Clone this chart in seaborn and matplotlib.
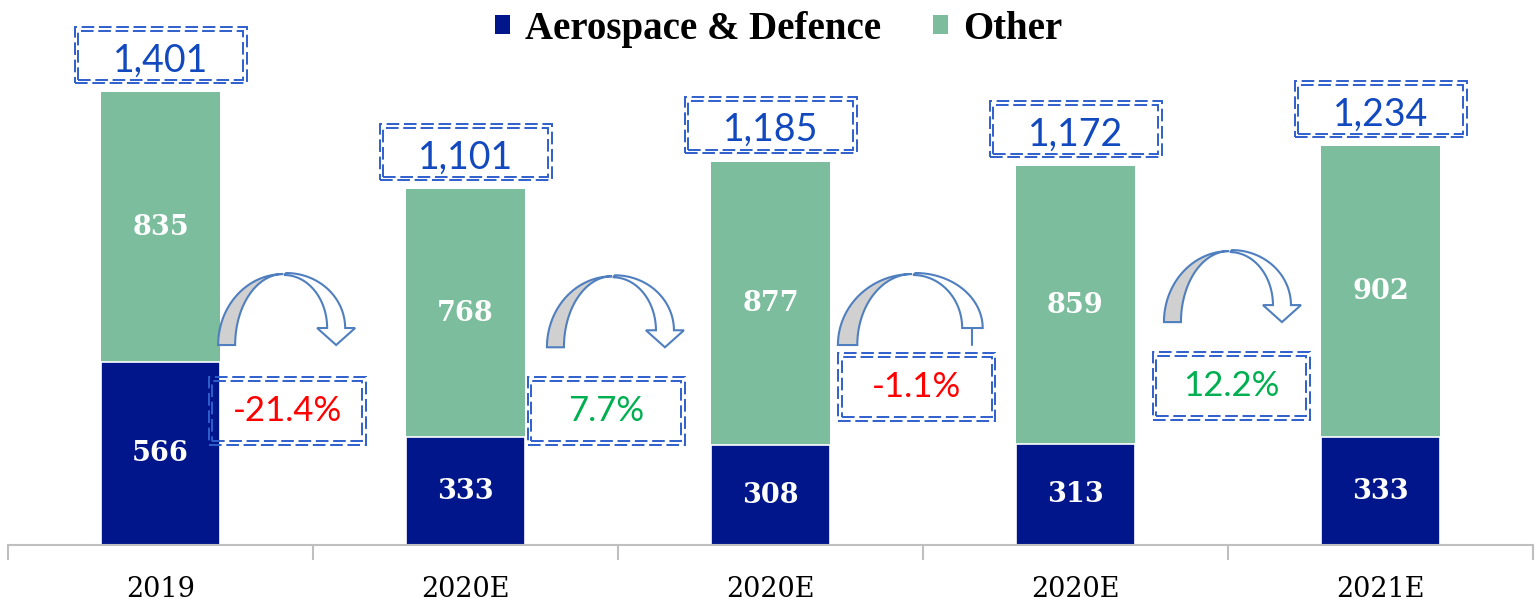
import numpy as np
import pandas as pd
import matplotlib
matplotlib.use("Agg")
import matplotlib.pyplot as plt
import seaborn as sns
from matplotlib.patches import Rectangle, Polygon, Patch
from matplotlib.lines import Line2D
from matplotlib.transforms import Affine2D, IdentityTransform
from matplotlib.font_manager import FontProperties

# ---- data -------------------------------------------------------------
periods = ["2019", "2020E", "2020E", "2020E", "2021E"]
aerospace = [566, 333, 308, 313, 333]
other = [835, 768, 877, 859, 902]
totals = [1401, 1101, 1185, 1172, 1234]
growth = [-21.4, 7.7, -1.1, 12.2]

# ---- styling ----------------------------------------------------------
NAVY = "#00168A"
GREEN = "#7BBD9C"
BOX_BLUE = "#2F5FCC"
TOTAL_BLUE = "#1249BE"
NEG_RED = "#FF0000"
POS_GREEN = "#00B050"
ARROW_EDGE = "#4F7FBF"
ARROW_FILL = "#D0D0D0"
AXIS_GRAY = "#BFBFBF"

# placement of the growth call-outs and curved arrows (data x, data y)
growth_box_pos = [(0.415, 415), (1.461, 415), (2.480, 489), (3.510, 492)]
arrow_pos = [(0.189, 619), (1.267, 612), (2.221, 619), (3.290, 690)]
arrow_head = [True, True, False, True]
arrow_sx = [1.0, 1.0, 1.14, 1.0]

sns.set_theme(style="white")
plt.rcParams["font.family"] = ["DejaVu Serif", "DejaVu Sans"]

fig = plt.figure(figsize=(15.36, 6.06), dpi=100)
ax = fig.add_axes([8 / 1536, 61 / 606, 1525 / 1536, 545 / 606])

df = pd.DataFrame({"idx": range(len(periods)), "aero": aerospace, "other": other})
df["stack"] = df["aero"] + df["other"]

sns.barplot(data=df, x="idx", y="stack", color=GREEN, width=0.39,
            saturation=1, ax=ax, linewidth=0)
sns.barplot(data=df, x="idx", y="aero", color=NAVY, width=0.39,
            saturation=1, ax=ax, edgecolor="white", linewidth=1.2)

ax.set_xlim(-0.5, len(periods) - 0.5)
ax.set_ylim(0, 1687)
ax.set_xlabel("")
ax.set_ylabel("")
ax.set_yticks([])
for s in ("top", "left", "right"):
    ax.spines[s].set_visible(False)
ax.spines["bottom"].set_color(AXIS_GRAY)
ax.spines["bottom"].set_linewidth(1.5)

ax.set_xticks(range(len(periods)))
ax.set_xticklabels(periods, fontsize=19.5, family="DejaVu Serif", color="black")
ax.tick_params(axis="x", which="major", bottom=True, length=0, pad=22)
ax.set_xticks(np.arange(-0.5, len(periods), 1.0), minor=True)
ax.tick_params(axis="x", which="minor", bottom=True, length=11, width=1.5,
               color=AXIS_GRAY)
ax.set_facecolor("white")

# segment value labels
for i, (a, o) in enumerate(zip(aerospace, other)):
    ax.text(i, a / 2, f"{a:,}", ha="center", va="center", color="white",
            fontsize=19.5, fontweight="bold", family="DejaVu Serif")
    ax.text(i, a + o / 2, f"{o:,}", ha="center", va="center", color="white",
            fontsize=19.5, fontweight="bold", family="DejaVu Serif")

fig.canvas.draw()


def double_box(xd, yd, w, h, dy=0.0):
    px, py = ax.transData.transform((xd, yd))
    py += dy
    for inset in (0.0, 3.6):
        r = Rectangle((px - w / 2 + inset, py - h / 2 + inset),
                      w - 2 * inset, h - 2 * inset,
                      transform=IdentityTransform(), fill=False,
                      edgecolor=BOX_BLUE, linewidth=1.4,
                      linestyle=(0, (6.5, 2.4)), clip_on=False, zorder=5)
        fig.add_artist(r)


# total call-outs above the bars
for i, t in enumerate(totals):
    double_box(i, t, 172, 56, dy=37)
    ax.annotate(f"{t:,}", xy=(i, t), xytext=(0, 32), textcoords="offset pixels",
                ha="center", va="center", fontsize=27, family="Lato",
                color=TOTAL_BLUE, zorder=6, annotation_clip=False)

# growth call-outs
for (gx, gy), g in zip(growth_box_pos, growth):
    double_box(gx, gy, 157, 68)
    ax.text(gx, gy, f"{g:.1f}%", ha="center", va="center", fontsize=25,
            family="Lato", color=NEG_RED if g < 0 else POS_GREEN, zorder=6)


def curved_arrow(xd, yd, head=True, sx=1.0):
    px, py = ax.transData.transform((xd, yd))
    tr = Affine2D().scale(sx, 1.0).translate(px, py)
    t1 = np.linspace(np.pi, np.pi / 2, 40)
    t2 = t1[::-1]
    back = np.vstack([
        np.column_stack([65 + 65 * np.cos(t1), 71 * np.sin(t1)]),
        np.column_stack([65 + 48 * np.cos(t2), 71 * np.sin(t2)]),
    ])
    u1 = np.linspace(np.pi / 2, 0, 40)
    u2 = u1[::-1]
    outer = np.column_stack([68 + 59 * np.cos(u1), 17 + 55 * np.sin(u1)])
    inner = np.column_stack([66 + 43 * np.cos(u2), 17 + 53 * np.sin(u2)])
    if head:
        tip = np.array([[137, 17], [118, 0], [99, 17]])
        front = np.vstack([outer, tip, inner])
    else:
        front = np.vstack([outer, inner])
    fig.add_artist(Polygon(back, closed=True, facecolor=ARROW_FILL,
                           edgecolor=ARROW_EDGE, linewidth=1.5,
                           transform=tr, zorder=4))
    fig.add_artist(Polygon(front, closed=True, facecolor="white",
                           edgecolor=ARROW_EDGE, linewidth=1.5,
                           transform=tr, zorder=4))
    if not head:
        fig.add_artist(Line2D([118, 118], [17, 0], color=ARROW_EDGE,
                              linewidth=1.5, transform=tr, zorder=4))


for (axd, ayd), h, sx in zip(arrow_pos, arrow_head, arrow_sx):
    curved_arrow(axd, ayd, head=h, sx=sx)

# legend
handles = [Patch(facecolor=NAVY, edgecolor="none"),
           Patch(facecolor=GREEN, edgecolor="none")]
leg = fig.legend(handles, ["Aerospace & Defence", "Other"], loc="upper center",
                 bbox_to_anchor=(0.507, 1.04), ncol=2, frameon=False,
                 prop=FontProperties(family="Liberation Serif", weight="bold",
                                     size=28),
                 handlelength=0.38, handleheight=0.38, handletextpad=0.4,
                 columnspacing=1.32)
for txt in leg.get_texts():
    txt.set_color("black")

fig.savefig("out.png", dpi=100, facecolor="white")
